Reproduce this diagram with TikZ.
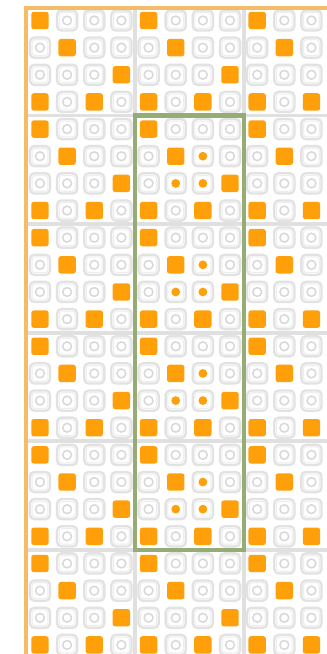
\documentclass[tikz,border=0pt]{standalone}
\definecolor{org}{RGB}{255,160,10}
\definecolor{ringgray}{RGB}{226,226,226}
\definecolor{ringin}{RGB}{238,238,238}
\definecolor{circgray}{RGB}{216,216,216}
\definecolor{gridgray}{RGB}{224,224,224}
\definecolor{frameorg}{RGB}{242,188,105}
\definecolor{grn}{RGB}{150,172,118}
\tikzset{
  orgbox/.style={fill=org, rounded corners=2.5pt},
  ringbox/.style={draw=ringgray, line width=2.3pt, rounded corners=4.5pt},
  ringinner/.style={draw=ringin, line width=1pt, rounded corners=3pt},
  circmark/.style={draw=circgray, line width=1.5pt},
  dotmark/.style={fill=org},
  gridline/.style={draw=gridgray, line width=3.8pt},
  frameline/.style={draw=frameorg, line width=3.6pt},
  greenframe/.style={draw=grn, line width=4.2pt}
}
\begin{document}
\begin{tikzpicture}[x=1pt,y=-1pt]
\useasboundingbox (0,0) rectangle (327,654);
\clip (0,0) rectangle (327,654);
\fill[white] (0,0) rectangle (327,654);
\def\pp{27.15}
\def\xo{26.4}
\def\yo{6.9}
% block grid lines
\foreach \i in {1,2,3}
  \draw[gridline] (\xo+4*\pp*\i,\yo) -- (\xo+4*\pp*\i,660);
\foreach \j in {1,...,5}
  \draw[gridline] (\xo,\yo+4*\pp*\j) -- (330,\yo+4*\pp*\j);
% cells
\foreach \rr in {0,...,23}{
  \foreach \cc in {0,...,11}{
    \pgfmathtruncatemacro{\cellcode}{mod(\rr,4)*4+mod(\cc,4)}
    \pgfmathtruncatemacro{\isorg}{(\cellcode==0)||(\cellcode==5)||(\cellcode==11)||(\cellcode==12)||(\cellcode==14)}
    \pgfmathtruncatemacro{\inband}{(int(\cc/4)==1)&&(\rr>=4)&&(\rr<=19)}
    \pgfmathtruncatemacro{\isdot}{(\inband==1)&&((\cellcode==6)||(\cellcode==9)||(\cellcode==10))}
    \pgfmathsetmacro{\px}{\xo+\pp*(\cc+0.5)}
    \pgfmathsetmacro{\py}{\yo+\pp*(\rr+0.5)}
    \ifnum\isorg=1
      \fill[orgbox] (\px-8.7,\py-8.7) rectangle (\px+8.7,\py+8.7);
    \else
      \draw[ringbox] (\px-10.1,\py-10.1) rectangle (\px+10.1,\py+10.1);
      \draw[ringinner] (\px-7.9,\py-7.9) rectangle (\px+7.9,\py+7.9);
      \ifnum\isdot=1
        \fill[dotmark] (\px,\py) circle (4.4);
      \else
        \draw[circmark] (\px,\py) circle (4.4);
      \fi
    \fi
  }
}
% frame
\draw[frameline] (\xo-0.5,660) -- (\xo-0.5,\yo+0.8) -- (330,\yo+0.8);
% highlighted column
\draw[greenframe] (\xo+4*\pp,\yo+4*\pp) rectangle (\xo+8*\pp,\yo+20*\pp);
\end{tikzpicture}
\end{document}
